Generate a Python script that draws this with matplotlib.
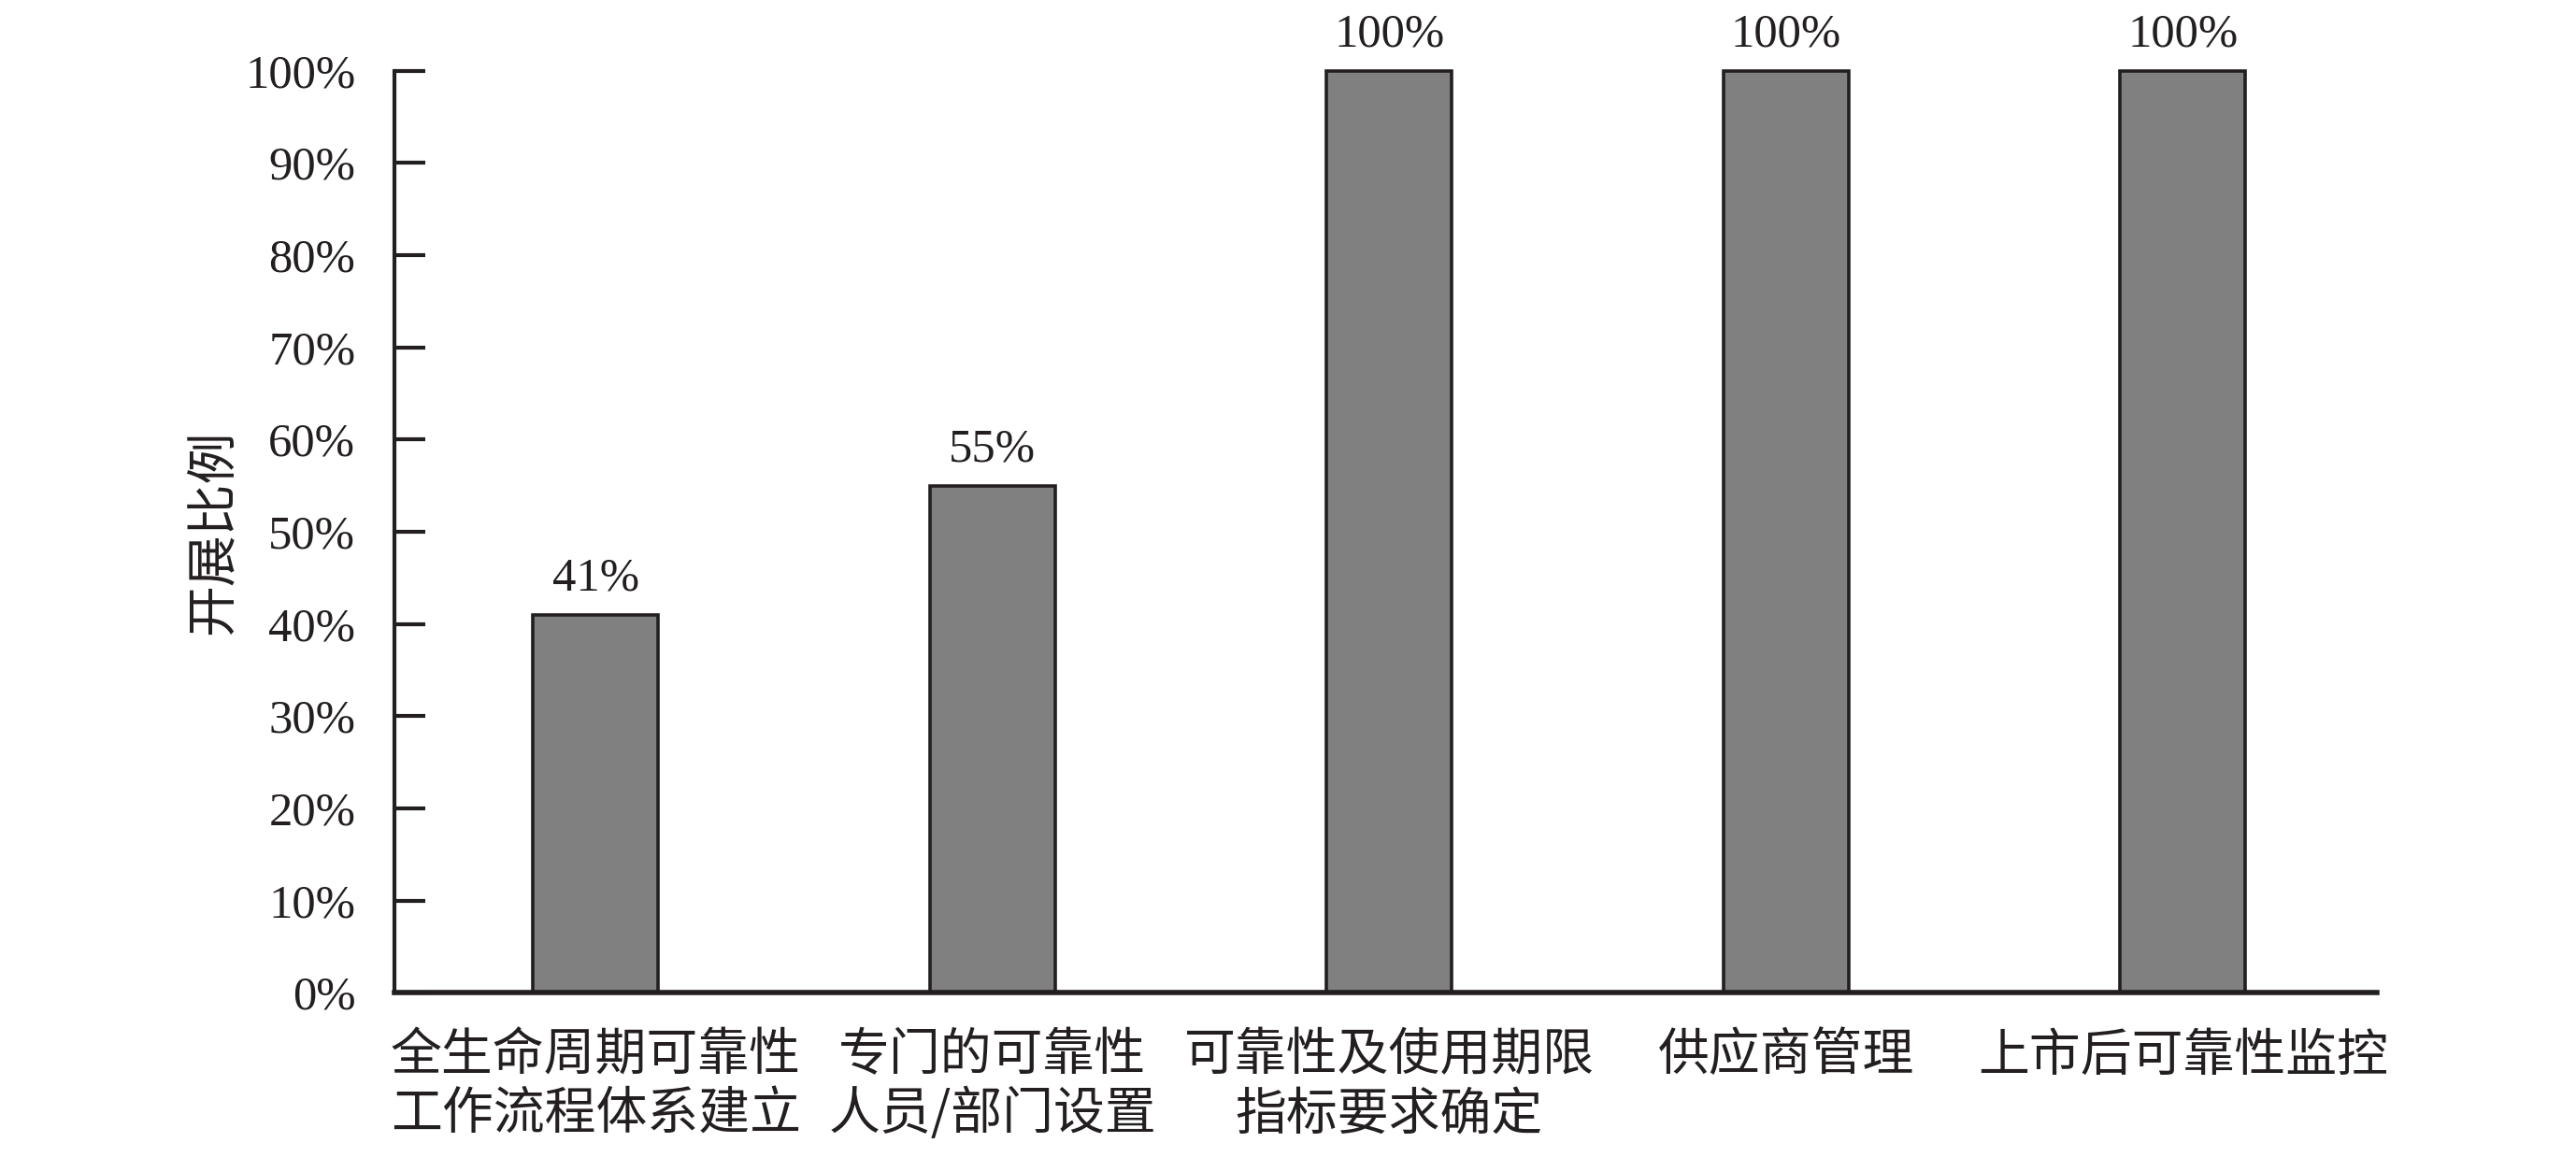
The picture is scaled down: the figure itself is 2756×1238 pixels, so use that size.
import matplotlib
matplotlib.use("Agg")
import matplotlib.pyplot as plt
from matplotlib.ticker import FuncFormatter

categories = ["全生命周期可靠性\n工作流程体系建立", "专门的可靠性\n人员/部门设置", "可靠性及使用期限\n指标要求确定",
              "供应商管理", "上市后可靠性监控"]
values = [41, 55, 100, 100, 100]
yticks = [0, 10, 20, 30, 40, 50, 60, 70, 80, 90, 100]
ylabel = "开展比例"

TXT = "#231f20"
SERIF = ["Liberation Serif", "DejaVu Serif"]
CJK = ["Noto Sans CJK SC", "DejaVu Sans"]

fig = plt.figure(figsize=(27.56, 12.38), dpi=100)
ax = fig.add_axes([0.1531, 0.142, 0.9228 - 0.1531, 0.939 - 0.142])

x = list(range(len(categories)))
bars = ax.bar(x, values, width=0.315, color="#808080", edgecolor=TXT, linewidth=2.6, zorder=2,
              clip_on=False)

for xi, v in zip(x, values):
    ax.annotate(f"{v}%", (xi, v), xytext=(0, 11), textcoords="offset points",
                ha="center", va="bottom", fontsize=36.5, family=SERIF, color=TXT,
                annotation_clip=False)

ax.set_xlim(-0.507, 4.49)
ax.set_ylim(0, 100)
ax.set_yticks(yticks)
ax.yaxis.set_major_formatter(FuncFormatter(lambda v, p: f"{int(v)}%"))
ax.set_xticks(x)
ax.set_xticklabels(categories, family=CJK, fontsize=39.5, color=TXT, linespacing=1.12)

for lbl in ax.get_yticklabels():
    lbl.set_family(SERIF)
    lbl.set_fontsize(36.5)
    lbl.set_color(TXT)

ax.tick_params(axis="y", direction="in", length=24, width=3, color=TXT, pad=30)
ax.tick_params(axis="x", length=0, pad=28)

for s in ["top", "right"]:
    ax.spines[s].set_visible(False)
ax.spines["left"].set_linewidth(3)
ax.spines["left"].set_color(TXT)
ax.spines["bottom"].set_linewidth(4)
ax.spines["bottom"].set_color(TXT)
ax.spines["bottom"].set_zorder(3)

ax.set_ylabel(ylabel, family=CJK, fontsize=39.5, color=TXT)
ax.yaxis.label.set_va("center")
ax.yaxis.set_label_coords(-0.091, 0.5)

fig.savefig("out.png", dpi=100, facecolor="white")
